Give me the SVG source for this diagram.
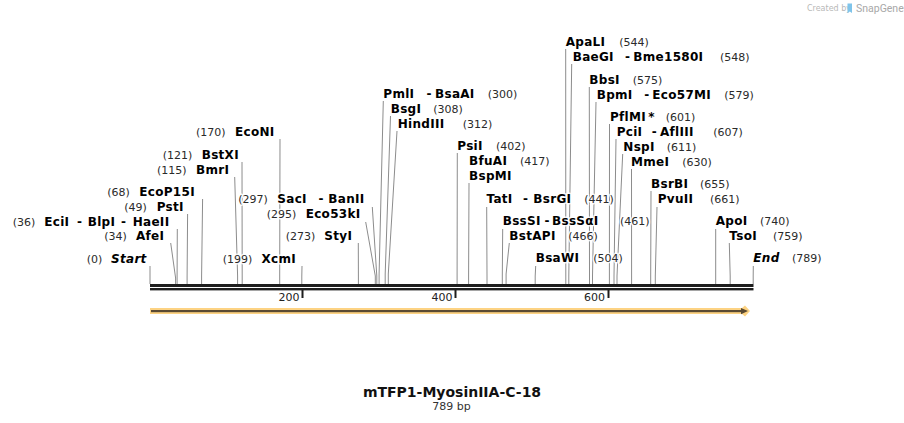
<svg xmlns="http://www.w3.org/2000/svg" width="904" height="423" viewBox="0 0 904 423">
<style>
text{font-family:"DejaVu Sans","Verdana","Liberation Sans",sans-serif;paint-order:stroke;stroke:#fff;stroke-opacity:0.85;stroke-width:3px;stroke-linejoin:round}
.n{font-size:12px;font-weight:bold;fill:#000;letter-spacing:0.3px}
.i{font-size:12px;font-weight:bold;font-style:italic;fill:#000;letter-spacing:0.3px}
.p{font-size:11px;fill:#2a2a2a}
.t{font-size:11px;fill:#222;stroke:none}
.ln{fill:none;stroke:#8c8c8c;stroke-width:1}
.title{font-size:14px;font-weight:bold;fill:#111;stroke:none}
.sub{font-size:11px;fill:#333;stroke:none}
</style>
<rect width="904" height="423" fill="#fff"/>

<g id="watermark">
<text x="807" y="11" style="font-size:8px;fill:#b8b8b8;stroke:none">Created by</text>
<path d="M847.5 3.5 h4.5 v9.5 l-2.2 -1.6 l-2.3 1.6 z" fill="#7fc4ea"/>
<text x="856" y="12" style="font-size:10.5px;fill:#a8a8a8;stroke:none;font-family:Roboto,'Liberation Sans',sans-serif">SnapGene</text>
</g>

<g id="connectors">
<polyline class="ln" points="280,139 279.7,276 279.7,284"/>
<polyline class="ln" points="242,162 242.2,276 242.2,284"/>
<polyline class="ln" points="234.7,177 237.6,276 237.6,284"/>
<polyline class="ln" points="202.6,199 201.6,276 201.6,284"/>
<polyline class="ln" points="187.6,214 187.1,276 187.1,284"/>
<polyline class="ln" points="177.3,229 177.1,276 177.1,284"/>
<polyline class="ln" points="170.7,243 175.6,278 175.6,284"/>
<polyline class="ln" points="150,266 150,284"/>
<polyline class="ln" points="302,266 301.8,276 301.8,284"/>
<polyline class="ln" points="372.3,207 376.8,276 376.8,284"/>
<polyline class="ln" points="365.7,222 375.3,276 375.3,284"/>
<polyline class="ln" points="358.3,243 358.4,276 358.4,284"/>
<polyline class="ln" points="383.3,101 379.1,274 379.1,284"/>
<polyline class="ln" points="390.5,116 385.2,274 385.2,284"/>
<polyline class="ln" points="397,131 388.3,274 388.3,284"/>
<polyline class="ln" points="457.3,153 457.1,276 457.1,284"/>
<polyline class="ln" points="469,183 468.6,276 468.6,284"/>
<polyline class="ln" points="486.7,207 487,276 487,284"/>
<polyline class="ln" points="502.7,229 502.3,276 502.3,284"/>
<polyline class="ln" points="509.3,243 506.1,274 506.1,284"/>
<polyline class="ln" points="535.7,266 535.2,276 535.2,284"/>
<polyline class="ln" points="565.7,49 565.8,276 565.8,284"/>
<polyline class="ln" points="571.7,64 568.8,276 568.8,284"/>
<polyline class="ln" points="589.3,87 589.5,276 589.5,284"/>
<polyline class="ln" points="596,102 592.5,276 592.5,284"/>
<polyline class="ln" points="609.5,124 609.4,276 609.4,284"/>
<polyline class="ln" points="616,139 614,276 614,284"/>
<polyline class="ln" points="622.7,154 617,276 617,284"/>
<polyline class="ln" points="631.5,169 631.6,276 631.6,284"/>
<polyline class="ln" points="651,191 650.7,276 650.7,284"/>
<polyline class="ln" points="657,207 655.3,276 655.3,284"/>
<polyline class="ln" points="715.7,229 715.7,276 715.7,284"/>
<polyline class="ln" points="729.3,243 730.2,276 730.2,284"/>
<polyline class="ln" points="753.3,266 753.2,276 753.2,284"/>
</g>

<g id="backbone">
<rect x="150" y="284" width="603.5" height="3" fill="#1e1e1e"/>
<rect x="150" y="288" width="603.5" height="2.4" fill="#1e1e1e"/>
<rect x="301.5" y="289" width="2" height="9" fill="#1e1e1e"/>
<rect x="454.5" y="289" width="2" height="9" fill="#1e1e1e"/>
<rect x="607.5" y="289" width="2" height="9" fill="#1e1e1e"/>
<text class="t" x="299.5" y="301" text-anchor="end">200</text>
<text class="t" x="452.5" y="301" text-anchor="end">400</text>
<text class="t" x="605" y="301" text-anchor="end">600</text>
</g>

<g id="feature">
<path d="M150 308 H742 L745 305.5 L750 311 L745 316.5 L742 314 H150 Z" fill="#fdd383"/>
<rect x="151" y="310" width="591" height="2.2" fill="#5a4a32"/>
<path d="M741 308 L748 311.1 L741 314.2 Z" fill="#5a4a32"/>
</g>

<g id="EcoNI"><text class="p" x="196" y="136">(170)</text><text class="n" x="235" y="136">EcoNI</text></g>
<g id="BstXI"><text class="p" x="162.7" y="159">(121)</text><text class="n" x="201.7" y="159">BstXI</text></g>
<g id="BmrI"><text class="p" x="157" y="174">(115)</text><text class="n" x="196" y="174">BmrI</text></g>
<g id="EcoP15I"><text class="p" x="107.3" y="196">(68)</text><text class="n" x="139.3" y="196">EcoP15I</text></g>
<g id="PstI"><text class="p" x="124.3" y="211">(49)</text><text class="n" x="156.7" y="211">PstI</text></g>
<g id="EciI"><text class="p" x="12.7" y="226">(36)</text><text class="n" x="44.3" y="226">EciI</text><text class="n" x="77" y="226">-</text><text class="n" x="87.7" y="226">BlpI</text><text class="n" x="121" y="226">-</text><text class="n" x="132.7" y="226">HaeII</text></g>
<g id="AfeI"><text class="p" x="104.3" y="240">(34)</text><text class="n" x="136" y="240">AfeI</text></g>
<g id="Start"><text class="p" x="86.7" y="263">(0)</text><text class="i" x="111" y="263">Start</text></g>
<g id="XcmI"><text class="p" x="222.7" y="263">(199)</text><text class="n" x="261.5" y="263">XcmI</text></g>
<g id="SacI"><text class="p" x="238.3" y="203">(297)</text><text class="n" x="277.3" y="203">SacI</text><text class="n" x="318.5" y="203">-</text><text class="n" x="328.3" y="203">BanII</text></g>
<g id="Eco53kI"><text class="p" x="266.7" y="218">(295)</text><text class="n" x="305.7" y="218">Eco53kI</text></g>
<g id="StyI"><text class="p" x="285.7" y="240">(273)</text><text class="n" x="324.3" y="240">StyI</text></g>

<g id="PmlI"><text class="n" x="383.3" y="98">PmlI</text><text class="n" x="426.5" y="98">-</text><text class="n" x="435" y="98">BsaAI</text><text class="p" x="487.7" y="98">(300)</text></g>
<g id="BsgI"><text class="n" x="390.7" y="113">BsgI</text><text class="p" x="433.3" y="113">(308)</text></g>
<g id="HindIII"><text class="n" x="397.7" y="128">HindIII</text><text class="p" x="462.7" y="128">(312)</text></g>
<g id="PsiI"><text class="n" x="457.3" y="150">PsiI</text><text class="p" x="496" y="150">(402)</text></g>
<g id="BfuAI"><text class="n" x="469" y="165">BfuAI</text><text class="p" x="520" y="165">(417)</text><text class="n" x="469" y="180">BspMI</text></g>
<g id="TatI"><text class="n" x="486.5" y="203">TatI</text><text class="n" x="523" y="203">-</text><text class="n" x="533.3" y="203">BsrGI</text><text class="p" x="584.3" y="203">(441)</text></g>
<g id="BssSI"><text class="n" x="502.7" y="225">BssSI</text><text class="n" x="544.5" y="225">-</text><text class="n" x="552" y="225">BssSαI</text><text class="p" x="620" y="225">(461)</text></g>
<g id="BstAPI"><text class="n" x="509.3" y="240">BstAPI</text><text class="p" x="568.3" y="240">(466)</text></g>
<g id="BsaWI"><text class="n" x="535.7" y="262">BsaWI</text><text class="p" x="593.3" y="262">(504)</text></g>
<g id="ApaLI"><text class="n" x="565.7" y="46">ApaLI</text><text class="p" x="619.3" y="46">(544)</text></g>
<g id="BaeGI"><text class="n" x="572.7" y="61">BaeGI</text><text class="n" x="625" y="61">-</text><text class="n" x="633.3" y="61">Bme1580I</text><text class="p" x="720" y="61">(548)</text></g>
<g id="BbsI"><text class="n" x="589.3" y="84">BbsI</text><text class="p" x="632.7" y="84">(575)</text></g>
<g id="BpmI"><text class="n" x="596.7" y="99">BpmI</text><text class="n" x="644.3" y="99">-</text><text class="n" x="652.3" y="99">Eco57MI</text><text class="p" x="724.3" y="99">(579)</text></g>
<g id="PflMI"><text class="n" x="610" y="121">PflMI</text><text class="n" x="648.3" y="121">*</text><text class="p" x="665.7" y="121">(601)</text></g>
<g id="PciI"><text class="n" x="616.7" y="136">PciI</text><text class="n" x="651.7" y="136">-</text><text class="n" x="660" y="136">AflIII</text><text class="p" x="713.3" y="136">(607)</text></g>
<g id="NspI"><text class="n" x="623.3" y="151">NspI</text><text class="p" x="666.7" y="151">(611)</text></g>
<g id="MmeI"><text class="n" x="631" y="166">MmeI</text><text class="p" x="682.3" y="166">(630)</text></g>
<g id="BsrBI"><text class="n" x="651" y="188">BsrBI</text><text class="p" x="700" y="188">(655)</text></g>
<g id="PvuII"><text class="n" x="657.7" y="203">PvuII</text><text class="p" x="710" y="203">(661)</text></g>
<g id="ApoI"><text class="n" x="715.7" y="225">ApoI</text><text class="p" x="760" y="225">(740)</text></g>
<g id="TsoI"><text class="n" x="729.3" y="240">TsoI</text><text class="p" x="773" y="240">(759)</text></g>
<g id="End"><text class="i" x="753.3" y="262">End</text><text class="p" x="792" y="262">(789)</text></g>

<g id="title">
<text class="title" x="452" y="397" text-anchor="middle">mTFP1-MyosinIIA-C-18</text>
<text class="sub" x="451.5" y="410" text-anchor="middle">789 bp</text>
</g>
</svg>
